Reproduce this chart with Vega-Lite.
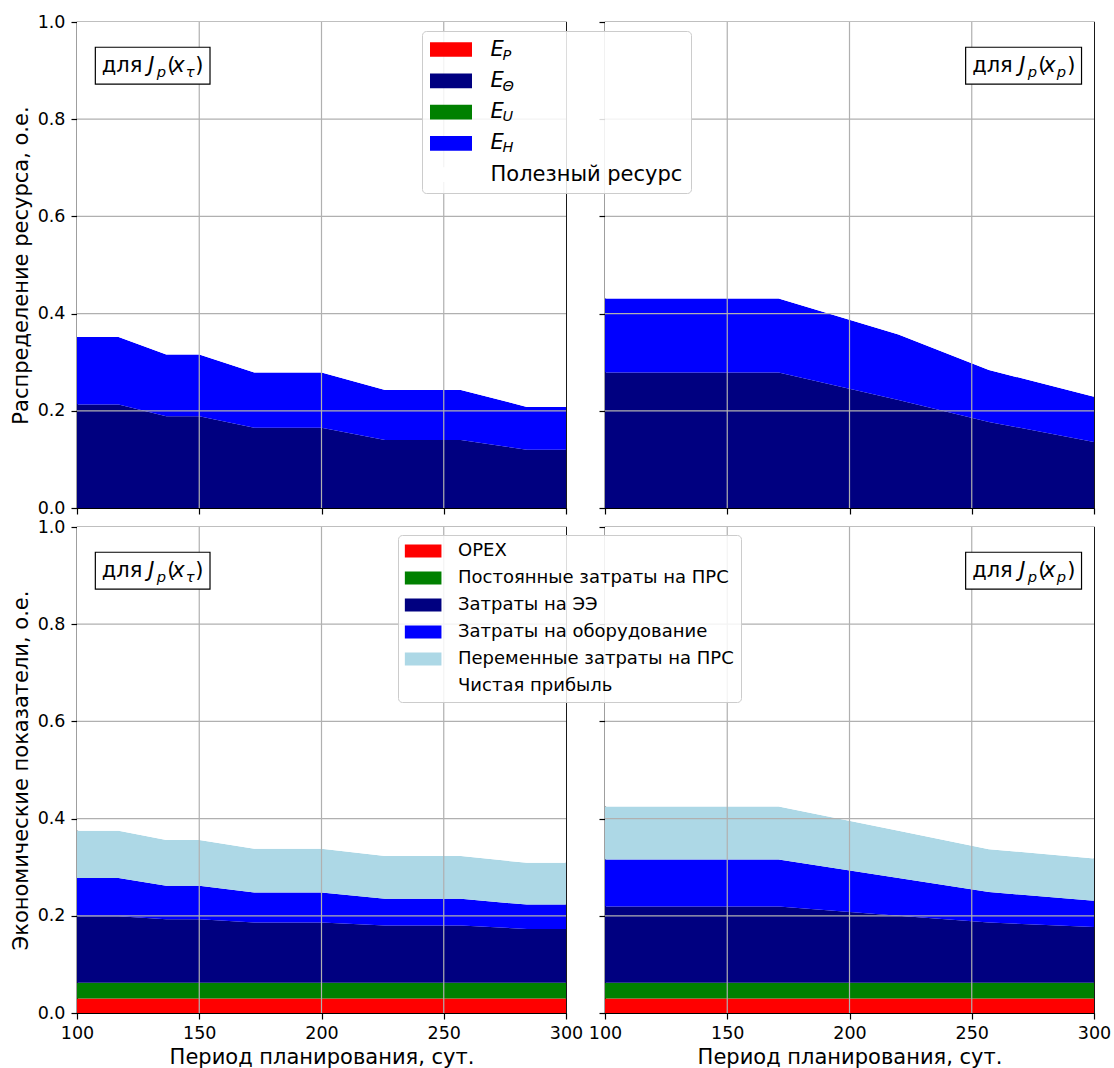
{
  "$schema": "https://vega.github.io/schema/vega-lite/v6.json",
  "background": "white",
  "padding": {"left": 9, "top": 12, "right": 10, "bottom": 5},
  "datasets": {
    "res": [
      {"panel": "tau", "x": 100, "ep": 0, "eth": 0.213, "eu": 0, "eh": 0.139, "useful": 0.648},
      {"panel": "tau", "x": 117, "ep": 0, "eth": 0.213, "eu": 0, "eh": 0.139, "useful": 0.648},
      {"panel": "tau", "x": 136.5, "ep": 0, "eth": 0.189, "eu": 0, "eh": 0.127, "useful": 0.684},
      {"panel": "tau", "x": 150, "ep": 0, "eth": 0.189, "eu": 0, "eh": 0.127, "useful": 0.684},
      {"panel": "tau", "x": 172.5, "ep": 0, "eth": 0.165, "eu": 0, "eh": 0.114, "useful": 0.721},
      {"panel": "tau", "x": 200, "ep": 0, "eth": 0.165, "eu": 0, "eh": 0.114, "useful": 0.721},
      {"panel": "tau", "x": 226, "ep": 0, "eth": 0.140, "eu": 0, "eh": 0.103, "useful": 0.757},
      {"panel": "tau", "x": 257, "ep": 0, "eth": 0.140, "eu": 0, "eh": 0.103, "useful": 0.757},
      {"panel": "tau", "x": 284, "ep": 0, "eth": 0.120, "eu": 0, "eh": 0.088, "useful": 0.792},
      {"panel": "tau", "x": 300, "ep": 0, "eth": 0.120, "eu": 0, "eh": 0.088, "useful": 0.792},
      {"panel": "p", "x": 100, "ep": 0, "eth": 0.279, "eu": 0, "eh": 0.152, "useful": 0.569},
      {"panel": "p", "x": 171, "ep": 0, "eth": 0.279, "eu": 0, "eh": 0.152, "useful": 0.569},
      {"panel": "p", "x": 220, "ep": 0, "eth": 0.222, "eu": 0, "eh": 0.135, "useful": 0.643},
      {"panel": "p", "x": 257, "ep": 0, "eth": 0.177, "eu": 0, "eh": 0.107, "useful": 0.716},
      {"panel": "p", "x": 300, "ep": 0, "eth": 0.136, "eu": 0, "eh": 0.093, "useful": 0.771}
    ],
    "eco": [
      {"panel": "tau", "x": 100, "opex": 0.030, "fixed": 0.032, "ee": 0.137, "equip": 0.079, "var": 0.097, "profit": 0.625},
      {"panel": "tau", "x": 117, "opex": 0.030, "fixed": 0.032, "ee": 0.137, "equip": 0.079, "var": 0.097, "profit": 0.625},
      {"panel": "tau", "x": 136.5, "opex": 0.030, "fixed": 0.032, "ee": 0.131, "equip": 0.069, "var": 0.094, "profit": 0.644},
      {"panel": "tau", "x": 150, "opex": 0.030, "fixed": 0.032, "ee": 0.131, "equip": 0.069, "var": 0.094, "profit": 0.644},
      {"panel": "tau", "x": 172.5, "opex": 0.030, "fixed": 0.032, "ee": 0.124, "equip": 0.062, "var": 0.090, "profit": 0.662},
      {"panel": "tau", "x": 200, "opex": 0.030, "fixed": 0.032, "ee": 0.124, "equip": 0.062, "var": 0.090, "profit": 0.662},
      {"panel": "tau", "x": 226, "opex": 0.030, "fixed": 0.032, "ee": 0.118, "equip": 0.055, "var": 0.088, "profit": 0.677},
      {"panel": "tau", "x": 257, "opex": 0.030, "fixed": 0.032, "ee": 0.118, "equip": 0.055, "var": 0.088, "profit": 0.677},
      {"panel": "tau", "x": 284, "opex": 0.030, "fixed": 0.032, "ee": 0.111, "equip": 0.050, "var": 0.086, "profit": 0.691},
      {"panel": "tau", "x": 300, "opex": 0.030, "fixed": 0.032, "ee": 0.111, "equip": 0.050, "var": 0.086, "profit": 0.691},
      {"panel": "p", "x": 100, "opex": 0.030, "fixed": 0.032, "ee": 0.157, "equip": 0.097, "var": 0.109, "profit": 0.575},
      {"panel": "p", "x": 171, "opex": 0.030, "fixed": 0.032, "ee": 0.157, "equip": 0.097, "var": 0.109, "profit": 0.575},
      {"panel": "p", "x": 220, "opex": 0.030, "fixed": 0.032, "ee": 0.138, "equip": 0.078, "var": 0.097, "profit": 0.625},
      {"panel": "p", "x": 257, "opex": 0.030, "fixed": 0.032, "ee": 0.124, "equip": 0.063, "var": 0.088, "profit": 0.663},
      {"panel": "p", "x": 300, "opex": 0.030, "fixed": 0.032, "ee": 0.115, "equip": 0.054, "var": 0.087, "profit": 0.682}
    ],
    "resS": [
      {"s": "ep", "name": "E_P", "sub": "P", "o": 1},
      {"s": "eth", "name": "E_Θ", "sub": "Θ", "o": 2},
      {"s": "eu", "name": "E_U", "sub": "U", "o": 3},
      {"s": "eh", "name": "E_H", "sub": "H", "o": 4},
      {"s": "useful", "name": "Полезный ресурс", "sub": "-", "o": 5}
    ],
    "ecoS": [
      {"s": "opex", "name": "OPEX", "o": 1},
      {"s": "fixed", "name": "Постоянные затраты на ПРС", "o": 2},
      {"s": "ee", "name": "Затраты на ЭЭ", "o": 3},
      {"s": "equip", "name": "Затраты на оборудование", "o": 4},
      {"s": "var", "name": "Переменные затраты на ПРС", "o": 5},
      {"s": "profit", "name": "Чистая прибыль", "o": 6}
    ],
    "gx": [{"x": 150}, {"x": 200}, {"x": 250}],
    "gy": [{"v": 0.2}, {"v": 0.4}, {"v": 0.6}, {"v": 0.8}]
  },
  "columns": 2,
  "bounds": "flush",
  "spacing": {"row": 19, "column": 39},
  "resolve": {"scale": {"color": "independent", "opacity": "independent"}, "legend": {"color": "independent", "opacity": "independent"}},
  "concat": [
    {
      "width": 489, "height": 486,
      "layer": [
        {
          "data": {"name": "res"},
          "transform": [
            {"filter": "datum.panel == 'tau'"},
            {"fold": ["ep", "eth", "eu", "eh", "useful"], "as": ["s", "v"]},
            {"lookup": "s", "from": {"data": {"name": "resS"}, "key": "s", "fields": ["name", "sub", "o"]}}
          ],
          "mark": {"type": "area", "opacity": 1},
          "encoding": {
            "x": {"field": "x", "type": "quantitative", "scale": {"domain": [100, 300], "nice": false, "zero": false}, "axis": {"values": [100, 150, 200, 250, 300], "labels": false, "title": null}},
            "y": {"field": "v", "type": "quantitative", "stack": "zero", "scale": {"domain": [0, 1], "nice": false}, "axis": {"values": [0, 0.2, 0.4, 0.6, 0.8, 1], "format": ".1f", "title": "Распределение ресурса, о.е."}},
            "color": {"field": "name", "type": "nominal", "scale": {"domain": ["E_P", "E_Θ", "E_U", "E_H", "Полезный ресурс"], "range": ["#ff0000", "#000080", "#008000", "#0000ff", "#ffffff"]}, "legend": null},
            "order": {"field": "o", "type": "quantitative"}
          }
        },
        {"data": {"name": "gx"}, "mark": {"type": "rule", "color": "#b0b0b0", "strokeWidth": 1.2}, "encoding": {"x": {"field": "x", "type": "quantitative"}}},
        {"data": {"name": "gy"}, "mark": {"type": "rule", "color": "#b0b0b0", "strokeWidth": 1.2}, "encoding": {"y": {"field": "v", "type": "quantitative"}}},
        {"data": {"values": [{}]}, "mark": {"type": "rect", "fill": "white", "stroke": "black", "strokeWidth": 1.2}, "encoding": {"x": {"datum": 107.5}, "x2": {"datum": 154.4}, "y": {"datum": 0.948}, "y2": {"datum": 0.872}}},
        {"data": {"values": [{}]}, "mark": {"type": "text", "align": "left", "baseline": "alphabetic", "fontSize": 21, "color": "black", "dx": 6.5}, "encoding": {"x": {"datum": 107.5}, "y": {"datum": 0.8965}, "text": {"value": "для"}}},
        {"data": {"values": [{}]}, "mark": {"type": "text", "align": "left", "baseline": "alphabetic", "fontSize": 21, "fontStyle": "italic", "color": "black", "dx": 53}, "encoding": {"x": {"datum": 107.5}, "y": {"datum": 0.8965}, "text": {"value": "J"}}},
        {"data": {"values": [{}]}, "mark": {"type": "text", "align": "left", "baseline": "alphabetic", "fontSize": 14.7, "fontStyle": "italic", "color": "black", "dx": 61.5, "dy": 5}, "encoding": {"x": {"datum": 107.5}, "y": {"datum": 0.8965}, "text": {"value": "p"}}},
        {"data": {"values": [{}]}, "mark": {"type": "text", "align": "left", "baseline": "alphabetic", "fontSize": 21, "color": "black", "dx": 72}, "encoding": {"x": {"datum": 107.5}, "y": {"datum": 0.8965}, "text": {"value": "("}}},
        {"data": {"values": [{}]}, "mark": {"type": "text", "align": "left", "baseline": "alphabetic", "fontSize": 21, "fontStyle": "italic", "color": "black", "dx": 77}, "encoding": {"x": {"datum": 107.5}, "y": {"datum": 0.8965}, "text": {"value": "x"}}},
        {"data": {"values": [{}]}, "mark": {"type": "text", "align": "left", "baseline": "alphabetic", "fontSize": 14.7, "fontStyle": "italic", "color": "black", "dx": 90.5, "dy": 5}, "encoding": {"x": {"datum": 107.5}, "y": {"datum": 0.8965}, "text": {"value": "τ"}}},
        {"data": {"values": [{}]}, "mark": {"type": "text", "align": "left", "baseline": "alphabetic", "fontSize": 21, "color": "black", "dx": 100}, "encoding": {"x": {"datum": 107.5}, "y": {"datum": 0.8965}, "text": {"value": ")"}}}
      ]
    },
    {
      "width": 489, "height": 486,
      "layer": [
        {
          "data": {"name": "res"},
          "transform": [
            {"filter": "datum.panel == 'p'"},
            {"fold": ["ep", "eth", "eu", "eh", "useful"], "as": ["s", "v"]},
            {"lookup": "s", "from": {"data": {"name": "resS"}, "key": "s", "fields": ["name", "sub", "o"]}}
          ],
          "mark": {"type": "area", "opacity": 1},
          "encoding": {
            "x": {"field": "x", "type": "quantitative", "scale": {"domain": [100, 300], "nice": false, "zero": false}, "axis": {"values": [100, 150, 200, 250, 300], "labels": false, "title": null}},
            "y": {"field": "v", "type": "quantitative", "stack": "zero", "scale": {"domain": [0, 1], "nice": false}, "axis": {"values": [0, 0.2, 0.4, 0.6, 0.8, 1], "labels": false, "title": null}},
            "color": {"field": "name", "type": "nominal", "scale": {"domain": ["E_P", "E_Θ", "E_U", "E_H", "Полезный ресурс"], "range": ["#ff0000", "#000080", "#008000", "#0000ff", "#ffffff"]},
              "legend": {"title": null, "orient": "none", "legendX": -183, "legendY": 9, "padding": 8, "fillColor": "rgba(255,255,255,0.85)", "strokeColor": "#cccccc", "cornerRadius": 4, "symbolType": "M-1,-0.7H3V0.7H-1Z", "symbolSize": 441, "symbolStrokeWidth": 0, "symbolOpacity": 1, "labelFontSize": 21, "labelOffset": 39.5, "labelLimit": 400, "rowPadding": 9.3, "labelColor": "black", "labelExpr": "datum.label == 'Полезный ресурс' ? datum.label : 'E'", "labelFontStyle": {"expr": "datum.label == 'Полезный ресурс' ? 'normal' : 'italic'"}, "zindex": 1}},
            "opacity": {"field": "sub", "type": "nominal", "scale": {"domain": ["P", "Θ", "U", "H", "-"], "range": [1, 1, 1, 1, 1]},
              "legend": {"title": null, "orient": "none", "legendX": -183, "legendY": 15.5, "padding": 8, "symbolType": "M-1,-0.7H3V0.7H-1Z", "symbolSize": 441, "symbolFillColor": "transparent", "symbolStrokeColor": "transparent", "symbolStrokeWidth": 0, "symbolOpacity": 0, "labelFontSize": 14.5, "labelFontStyle": "italic", "labelOffset": 51.5, "rowPadding": 12.6, "labelColor": "black", "labelExpr": "datum.label == '-' ? '' : datum.label", "zindex": 2}},
            "order": {"field": "o", "type": "quantitative"}
          }
        },
        {"data": {"name": "gx"}, "mark": {"type": "rule", "color": "#b0b0b0", "strokeWidth": 1.2}, "encoding": {"x": {"field": "x", "type": "quantitative"}}},
        {"data": {"name": "gy"}, "mark": {"type": "rule", "color": "#b0b0b0", "strokeWidth": 1.2}, "encoding": {"y": {"field": "v", "type": "quantitative"}}},
        {"data": {"values": [{}]}, "mark": {"type": "rect", "fill": "white", "stroke": "black", "strokeWidth": 1.2}, "encoding": {"x": {"datum": 247.5}, "x2": {"datum": 294.9}, "y": {"datum": 0.948}, "y2": {"datum": 0.872}}},
        {"data": {"values": [{}]}, "mark": {"type": "text", "align": "left", "baseline": "alphabetic", "fontSize": 21, "color": "black", "dx": 6.5}, "encoding": {"x": {"datum": 247.5}, "y": {"datum": 0.8965}, "text": {"value": "для"}}},
        {"data": {"values": [{}]}, "mark": {"type": "text", "align": "left", "baseline": "alphabetic", "fontSize": 21, "fontStyle": "italic", "color": "black", "dx": 53.5}, "encoding": {"x": {"datum": 247.5}, "y": {"datum": 0.8965}, "text": {"value": "J"}}},
        {"data": {"values": [{}]}, "mark": {"type": "text", "align": "left", "baseline": "alphabetic", "fontSize": 14.7, "fontStyle": "italic", "color": "black", "dx": 62, "dy": 5}, "encoding": {"x": {"datum": 247.5}, "y": {"datum": 0.8965}, "text": {"value": "p"}}},
        {"data": {"values": [{}]}, "mark": {"type": "text", "align": "left", "baseline": "alphabetic", "fontSize": 21, "color": "black", "dx": 72.5}, "encoding": {"x": {"datum": 247.5}, "y": {"datum": 0.8965}, "text": {"value": "("}}},
        {"data": {"values": [{}]}, "mark": {"type": "text", "align": "left", "baseline": "alphabetic", "fontSize": 21, "fontStyle": "italic", "color": "black", "dx": 77.5}, "encoding": {"x": {"datum": 247.5}, "y": {"datum": 0.8965}, "text": {"value": "x"}}},
        {"data": {"values": [{}]}, "mark": {"type": "text", "align": "left", "baseline": "alphabetic", "fontSize": 14.7, "fontStyle": "italic", "color": "black", "dx": 91, "dy": 5}, "encoding": {"x": {"datum": 247.5}, "y": {"datum": 0.8965}, "text": {"value": "p"}}},
        {"data": {"values": [{}]}, "mark": {"type": "text", "align": "left", "baseline": "alphabetic", "fontSize": 21, "color": "black", "dx": 101.5}, "encoding": {"x": {"datum": 247.5}, "y": {"datum": 0.8965}, "text": {"value": ")"}}}
      ]
    },
    {
      "width": 489, "height": 486,
      "layer": [
        {
          "data": {"name": "eco"},
          "transform": [
            {"filter": "datum.panel == 'tau'"},
            {"fold": ["opex", "fixed", "ee", "equip", "var", "profit"], "as": ["s", "v"]},
            {"lookup": "s", "from": {"data": {"name": "ecoS"}, "key": "s", "fields": ["name", "o"]}}
          ],
          "mark": {"type": "area", "opacity": 1},
          "encoding": {
            "x": {"field": "x", "type": "quantitative", "scale": {"domain": [100, 300], "nice": false, "zero": false}, "axis": {"values": [100, 150, 200, 250, 300], "format": "d", "title": "Период планирования, сут."}},
            "y": {"field": "v", "type": "quantitative", "stack": "zero", "scale": {"domain": [0, 1], "nice": false}, "axis": {"values": [0, 0.2, 0.4, 0.6, 0.8, 1], "format": ".1f", "title": "Экономические показатели, о.е."}},
            "color": {"field": "name", "type": "nominal", "scale": {"domain": ["OPEX", "Постоянные затраты на ПРС", "Затраты на ЭЭ", "Затраты на оборудование", "Переменные затраты на ПРС", "Чистая прибыль"], "range": ["#ff0000", "#008000", "#000080", "#0000ff", "#add8e6", "#ffffff"]}, "legend": null},
            "order": {"field": "o", "type": "quantitative"}
          }
        },
        {"data": {"name": "gx"}, "mark": {"type": "rule", "color": "#b0b0b0", "strokeWidth": 1.2}, "encoding": {"x": {"field": "x", "type": "quantitative"}}},
        {"data": {"name": "gy"}, "mark": {"type": "rule", "color": "#b0b0b0", "strokeWidth": 1.2}, "encoding": {"y": {"field": "v", "type": "quantitative"}}},
        {"data": {"values": [{}]}, "mark": {"type": "rect", "fill": "white", "stroke": "black", "strokeWidth": 1.2}, "encoding": {"x": {"datum": 107.5}, "x2": {"datum": 154.4}, "y": {"datum": 0.948}, "y2": {"datum": 0.872}}},
        {"data": {"values": [{}]}, "mark": {"type": "text", "align": "left", "baseline": "alphabetic", "fontSize": 21, "color": "black", "dx": 6.5}, "encoding": {"x": {"datum": 107.5}, "y": {"datum": 0.8965}, "text": {"value": "для"}}},
        {"data": {"values": [{}]}, "mark": {"type": "text", "align": "left", "baseline": "alphabetic", "fontSize": 21, "fontStyle": "italic", "color": "black", "dx": 53}, "encoding": {"x": {"datum": 107.5}, "y": {"datum": 0.8965}, "text": {"value": "J"}}},
        {"data": {"values": [{}]}, "mark": {"type": "text", "align": "left", "baseline": "alphabetic", "fontSize": 14.7, "fontStyle": "italic", "color": "black", "dx": 61.5, "dy": 5}, "encoding": {"x": {"datum": 107.5}, "y": {"datum": 0.8965}, "text": {"value": "p"}}},
        {"data": {"values": [{}]}, "mark": {"type": "text", "align": "left", "baseline": "alphabetic", "fontSize": 21, "color": "black", "dx": 72}, "encoding": {"x": {"datum": 107.5}, "y": {"datum": 0.8965}, "text": {"value": "("}}},
        {"data": {"values": [{}]}, "mark": {"type": "text", "align": "left", "baseline": "alphabetic", "fontSize": 21, "fontStyle": "italic", "color": "black", "dx": 77}, "encoding": {"x": {"datum": 107.5}, "y": {"datum": 0.8965}, "text": {"value": "x"}}},
        {"data": {"values": [{}]}, "mark": {"type": "text", "align": "left", "baseline": "alphabetic", "fontSize": 14.7, "fontStyle": "italic", "color": "black", "dx": 90.5, "dy": 5}, "encoding": {"x": {"datum": 107.5}, "y": {"datum": 0.8965}, "text": {"value": "τ"}}},
        {"data": {"values": [{}]}, "mark": {"type": "text", "align": "left", "baseline": "alphabetic", "fontSize": 21, "color": "black", "dx": 100}, "encoding": {"x": {"datum": 107.5}, "y": {"datum": 0.8965}, "text": {"value": ")"}}}
      ]
    },
    {
      "width": 489, "height": 486,
      "layer": [
        {
          "data": {"name": "eco"},
          "transform": [
            {"filter": "datum.panel == 'p'"},
            {"fold": ["opex", "fixed", "ee", "equip", "var", "profit"], "as": ["s", "v"]},
            {"lookup": "s", "from": {"data": {"name": "ecoS"}, "key": "s", "fields": ["name", "o"]}}
          ],
          "mark": {"type": "area", "opacity": 1},
          "encoding": {
            "x": {"field": "x", "type": "quantitative", "scale": {"domain": [100, 300], "nice": false, "zero": false}, "axis": {"values": [100, 150, 200, 250, 300], "format": "d", "title": "Период планирования, сут."}},
            "y": {"field": "v", "type": "quantitative", "stack": "zero", "scale": {"domain": [0, 1], "nice": false}, "axis": {"values": [0, 0.2, 0.4, 0.6, 0.8, 1], "labels": false, "title": null}},
            "color": {"field": "name", "type": "nominal", "scale": {"domain": ["OPEX", "Постоянные затраты на ПРС", "Затраты на ЭЭ", "Затраты на оборудование", "Переменные затраты на ПРС", "Чистая прибыль"], "range": ["#ff0000", "#008000", "#000080", "#0000ff", "#add8e6", "#ffffff"]},
              "legend": {"title": null, "orient": "none", "legendX": -207, "legendY": 8, "padding": 6.5, "fillColor": "rgba(255,255,255,0.85)", "strokeColor": "#cccccc", "cornerRadius": 4, "symbolType": "M-1,-0.7H3V0.7H-1Z", "symbolSize": 335, "symbolStrokeWidth": 0, "symbolOpacity": 1, "labelFontSize": 18, "labelOffset": 34.5, "labelLimit": 400, "rowPadding": 8, "labelColor": "black", "zindex": 1}},
            "order": {"field": "o", "type": "quantitative"}
          }
        },
        {"data": {"name": "gx"}, "mark": {"type": "rule", "color": "#b0b0b0", "strokeWidth": 1.2}, "encoding": {"x": {"field": "x", "type": "quantitative"}}},
        {"data": {"name": "gy"}, "mark": {"type": "rule", "color": "#b0b0b0", "strokeWidth": 1.2}, "encoding": {"y": {"field": "v", "type": "quantitative"}}},
        {"data": {"values": [{}]}, "mark": {"type": "rect", "fill": "white", "stroke": "black", "strokeWidth": 1.2}, "encoding": {"x": {"datum": 247.5}, "x2": {"datum": 294.9}, "y": {"datum": 0.948}, "y2": {"datum": 0.872}}},
        {"data": {"values": [{}]}, "mark": {"type": "text", "align": "left", "baseline": "alphabetic", "fontSize": 21, "color": "black", "dx": 6.5}, "encoding": {"x": {"datum": 247.5}, "y": {"datum": 0.8965}, "text": {"value": "для"}}},
        {"data": {"values": [{}]}, "mark": {"type": "text", "align": "left", "baseline": "alphabetic", "fontSize": 21, "fontStyle": "italic", "color": "black", "dx": 53.5}, "encoding": {"x": {"datum": 247.5}, "y": {"datum": 0.8965}, "text": {"value": "J"}}},
        {"data": {"values": [{}]}, "mark": {"type": "text", "align": "left", "baseline": "alphabetic", "fontSize": 14.7, "fontStyle": "italic", "color": "black", "dx": 62, "dy": 5}, "encoding": {"x": {"datum": 247.5}, "y": {"datum": 0.8965}, "text": {"value": "p"}}},
        {"data": {"values": [{}]}, "mark": {"type": "text", "align": "left", "baseline": "alphabetic", "fontSize": 21, "color": "black", "dx": 72.5}, "encoding": {"x": {"datum": 247.5}, "y": {"datum": 0.8965}, "text": {"value": "("}}},
        {"data": {"values": [{}]}, "mark": {"type": "text", "align": "left", "baseline": "alphabetic", "fontSize": 21, "fontStyle": "italic", "color": "black", "dx": 77.5}, "encoding": {"x": {"datum": 247.5}, "y": {"datum": 0.8965}, "text": {"value": "x"}}},
        {"data": {"values": [{}]}, "mark": {"type": "text", "align": "left", "baseline": "alphabetic", "fontSize": 14.7, "fontStyle": "italic", "color": "black", "dx": 91, "dy": 5}, "encoding": {"x": {"datum": 247.5}, "y": {"datum": 0.8965}, "text": {"value": "p"}}},
        {"data": {"values": [{}]}, "mark": {"type": "text", "align": "left", "baseline": "alphabetic", "fontSize": 21, "color": "black", "dx": 101.5}, "encoding": {"x": {"datum": 247.5}, "y": {"datum": 0.8965}, "text": {"value": ")"}}}
      ]
    }
  ],
  "config": {
    "font": "DejaVu Sans",
    "view": {"stroke": "black", "strokeWidth": 1.2},
    "axis": {"grid": false, "domainColor": "black", "domainWidth": 1.2, "tickColor": "black", "tickWidth": 1.2, "tickSize": 6, "labelFontSize": 17.5, "labelColor": "black", "titleFontSize": 21, "titleFontWeight": "normal", "titleColor": "black", "labelFlush": false, "labelOverlap": false, "zindex": 1},
    "axisX": {"labelPadding": 5, "titlePadding": 5},
    "axisY": {"labelPadding": 6, "titlePadding": 6}
  }
}
